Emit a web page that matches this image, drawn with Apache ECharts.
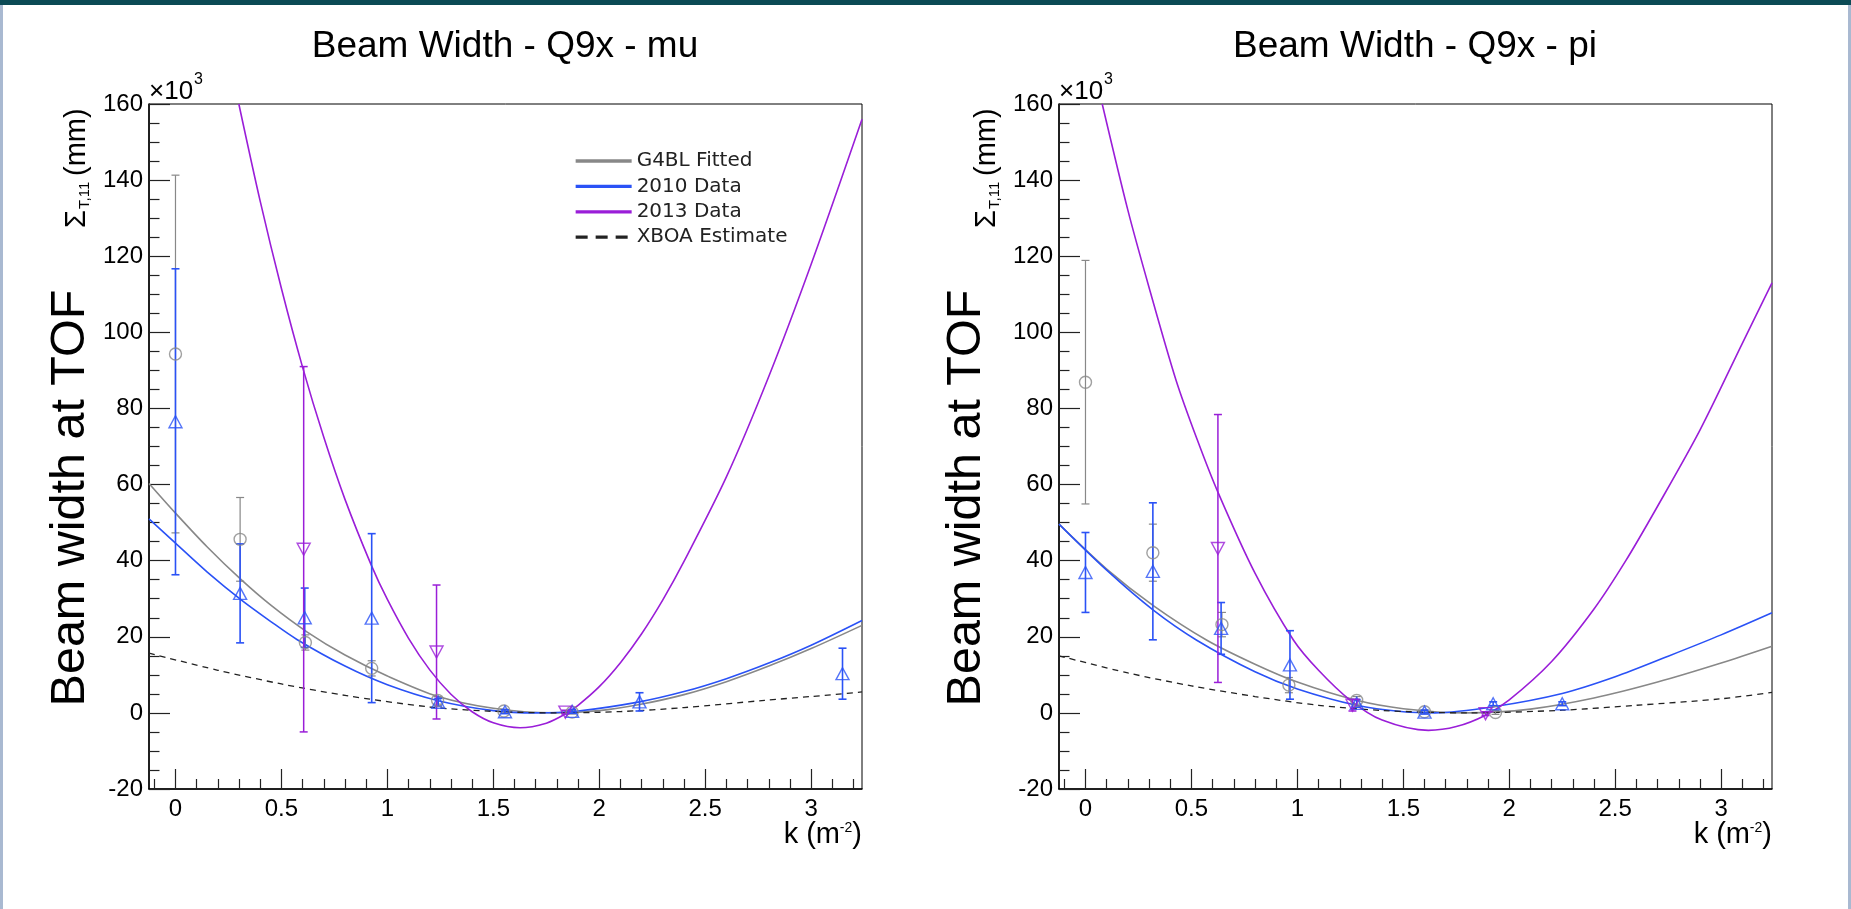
<!DOCTYPE html>
<html>
<head>
<meta charset="utf-8">
<script src="https://cdn.jsdelivr.net/npm/echarts@6/dist/echarts.min.js"></script>
<style>
html,body{margin:0;padding:0;background:#fff;}
#c{width:1851px;height:909px;}
</style>
</head>
<body>
<div id="c"></div>
<script>
// ---------------- data ----------------
const X_MIN = -0.125, X_MAX = 3.24;
const Y_MIN = -20, Y_MAX = 160, Y_STEP = 20;
const X_TICKS = [0, 0.5, 1, 1.5, 2, 2.5, 3];
const X_MINOR_TICKS = [-0.1,0.1,0.2,0.3,0.4,0.6,0.7,0.8,0.9,1.1,1.2,1.3,1.4,1.6,1.7,1.8,1.9,2.1,2.2,2.3,2.4,2.6,2.7,2.8,2.9,3.1,3.2];

const TITLES = ['Beam Width - Q9x - mu', 'Beam Width - Q9x - pi'];
const LEGEND_NAMES = ['G4BL Fitted', '2010 Data', '2013 Data', 'XBOA Estimate'];

// mu panel: points (k, value [x10^3 mm], error)
const muG4blK = [0, 0.305, 0.613, 0.926, 1.237, 1.55, 1.872];
const muG4blV = [94.3, 45.6, 18.5, 11.7, 3.3, 0.5, 0.2];
const muG4blE = [47, 11, 2, 2, 1, 0.5, 0.5];
const mu2010K = [0, 0.305, 0.61, 0.926, 1.24, 1.555, 1.872, 2.19, 3.148];
const mu2010V = [76.5, 31.4, 25.0, 24.9, 2.8, 0.3, 0.4, 2.9, 10.3];
const mu2010E = [40.2, 13, 7.8, 22.2, 1, 0.5, 0.5, 2.4, 6.7];
const mu2013K = [0.605, 1.232, 1.84];
const mu2013V = [43, 16, 0.2];
const mu2013E = [48, 17.6, 0.5];
// mu panel: fitted curves [k, value]
const muFitG4bl = [[-0.125,60.3],[0,52.5],[0.15,43.6],[0.31,35.0],[0.45,28.3],[0.62,21.3],[0.8,15.2],[1.0,9.7],[1.24,4.3],[1.5,1.2],[1.78,0.0],[2.0,0.6],[2.19,2.2],[2.4,4.8],[2.6,8.2],[2.8,12.3],[3.0,16.9],[3.24,23.0]];
const muFit2010 = [[-0.125,51.0],[0,44.6],[0.15,37.0],[0.31,29.7],[0.45,24.0],[0.573,19.3],[0.8,12.3],[1.0,7.4],[1.24,3.2],[1.5,0.6],[1.7,0.0],[1.9,0.5],[2.19,2.9],[2.4,5.6],[2.6,9.0],[2.8,13.1],[3.0,17.8],[3.24,24.3]];
const muFit2013 = [[0.299,160],[0.4,134.4],[0.5,111.5],[0.6,90.8],[0.7,72.4],[0.8,56.1],[0.925,38.7],[1.0,29.8],[1.1,19.6],[1.2,11.3],[1.3,4.9],[1.4,0.3],[1.5,-2.6],[1.626,-3.9],[1.75,-2.7],[1.84,-0.3],[1.9,2.0],[2.0,6.9],[2.1,13.2],[2.2,20.8],[2.3,29.7],[2.4,39.8],[2.6,62.0],[2.8,88.4],[3.0,117.9],[3.24,156]];
const muXboa = [[-0.125,15.7],[0.2,11.2],[0.5,7.6],[0.8,4.6],[1.2,1.55],[1.5,0.4],[1.8,0.0],[2.1,0.35],[2.4,1.4],[2.78,3.3],[3.0,4.3],[3.24,5.5]];

// pi panel
const piG4blK = [0, 0.318, 0.644, 0.96, 1.28, 1.6, 1.935];
const piG4blV = [86.9, 42.1, 23.2, 7.3, 3.3, 0.3, 0.1];
const piG4blE = [32, 7.5, 3.2, 2, 1, 0.5, 0.5];
const pi2010K = [0, 0.318, 0.64, 0.965, 1.28, 1.6, 1.924, 2.25];
const pi2010V = [36.9, 37.2, 22.2, 12.6, 2.5, 0.2, 2.4, 2.4];
const pi2010E = [10.5, 18, 6.8, 9, 1, 0.5, 0.5, 0.5];
const pi2013K = [0.625, 1.26, 1.888];
const pi2013V = [43.2, 2, -0.2];
const pi2013E = [35.2, 1.5, 0.5];
const piFitG4bl = [[-0.125,49.6],[0.1,37.8],[0.32,28.2],[0.573,19.1],[0.8,12.8],[1.0,8.1],[1.28,3.3],[1.5,1.1],[1.8,0.0],[2.1,1.0],[2.4,3.9],[2.7,8.1],[3.0,13.1],[3.24,17.5]];
const piFit2010 = [[-0.125,49.6],[0.1,37.5],[0.32,27.0],[0.525,19.1],[0.8,10.8],[1.0,6.3],[1.28,2.0],[1.5,0.3],[1.65,0.0],[1.924,1.6],[2.25,5.1],[2.5,9.5],[2.75,14.9],[3.0,20.5],[3.24,26.3]];
const piFit2013 = [[0.079,160],[0.2,132.1],[0.3,111.8],[0.427,87.5],[0.528,71.7],[0.628,57.6],[0.8,36.7],[0.982,19.1],[1.1,11.2],[1.25,3.3],[1.4,-1.9],[1.618,-4.6],[1.75,-3.6],[1.888,-0.6],[2.0,3.4],[2.2,13.5],[2.4,27.3],[2.55,40.0],[2.7,54.3],[2.9,74.3],[3.1,97.1],[3.24,113]];
const piXboa = [[-0.125,15.0],[0.2,10.5],[0.5,7.1],[0.8,4.3],[1.1,2.0],[1.4,0.64],[1.8,0.0],[2.25,0.7],[2.6,2.0],[3.0,3.7],[3.24,5.4]];

// ---------------- styles ----------------
const C_GRAY = '#888888', C_BLUE = '#2a52f6', C_PURPLE = '#9a1ed8', C_DASH = '#222222';
const FONT = 'Liberation Sans, Arial, Helvetica, sans-serif';
const GRIDS = [{left:149, top:104, width:713, height:685}, {left:1059, top:104, width:713, height:685}];

const chart = echarts.init(document.getElementById('c'), null, {renderer:'canvas'});

function zip(k, v, e){ return k.map((x,i)=> e ? [x, v[i], e[i]] : [x, v[i]]); }

function xAxes(gi){
  return [{
    type:'value', gridIndex:gi, min:X_MIN, max:X_MAX, position:'bottom',
    axisLine:{show:true, onZero:false, lineStyle:{color:'#000', width:1.5}},
    axisTick:{show:true, inside:true, length:20, customValues:X_TICKS, lineStyle:{color:'#222', width:1.2}},
    axisLabel:{show:true, customValues:X_TICKS, margin:8, color:'#000', fontSize:24, fontFamily:FONT},
    splitLine:{show:false}
  },{
    type:'value', gridIndex:gi, min:X_MIN, max:X_MAX, position:'bottom',
    axisLine:{show:false, onZero:false},
    axisTick:{show:true, inside:true, length:10, customValues:X_MINOR_TICKS, lineStyle:{color:'#222', width:1.2}},
    axisLabel:{show:false}, splitLine:{show:false}
  }];
}
function yAxis(gi){
  return {
    type:'value', gridIndex:gi, min:Y_MIN, max:Y_MAX, interval:Y_STEP,
    axisLine:{show:true, onZero:false, lineStyle:{color:'#000', width:1.5}},
    axisTick:{show:true, inside:true, length:21, lineStyle:{color:'#222', width:1.2}},
    minorTick:{show:true, splitNumber:4, length:10.5, lineStyle:{color:'#222', width:1.2}},
    axisLabel:{margin:6, color:'#000', fontSize:24, fontFamily:FONT},
    splitLine:{show:false}, minorSplitLine:{show:false}
  };
}

function curve(name, data, color, xi, yi, dashed){
  return {type:'line', name:name, xAxisIndex:xi, yAxisIndex:yi, data:data, smooth:0.3,
    symbol:'none', showSymbol:false, clip:true, silent:true, z:3,
    lineStyle:{color:color, width:dashed?1.3:1.6, type:dashed?[6,5]:'solid'}, itemStyle:{color:color}};
}
function errBars(id, data, color, xi, yi, w){
  return {type:'custom', name:id, xAxisIndex:xi, yAxisIndex:yi, data:data, clip:true, silent:true, z:4,
    renderItem:function(params, api){
      const k = api.value(0), v = api.value(1), e = api.value(2);
      const t = api.coord([k, v+e]), b = api.coord([k, v-e]);
      const cw = 4;
      const st = {stroke:color, lineWidth:w};
      return {type:'group', children:[
        {type:'line', shape:{x1:t[0], y1:t[1], x2:b[0], y2:b[1]}, style:st},
        {type:'line', shape:{x1:t[0]-cw, y1:t[1], x2:t[0]+cw, y2:t[1]}, style:st},
        {type:'line', shape:{x1:b[0]-cw, y1:b[1], x2:b[0]+cw, y2:b[1]}, style:st}
      ]};
    }};
}
function markers(id, data, color, xi, yi, symbol, size, rot){
  return {type:'scatter', name:id, xAxisIndex:xi, yAxisIndex:yi, data:data, symbol:symbol, symbolSize:size,
    symbolRotate:rot||0, silent:true, z:5,
    itemStyle:{color:'rgba(255,255,255,0)', borderColor:color, borderWidth:1.4}};
}

function panelSeries(p, xi, yi){
  return [
    curve(LEGEND_NAMES[0], p.fitG, C_GRAY, xi, yi, false),
    curve(LEGEND_NAMES[1], p.fitB, C_BLUE, xi, yi, false),
    curve(LEGEND_NAMES[2], p.fitP, C_PURPLE, xi, yi, false),
    curve(LEGEND_NAMES[3], p.xboa, C_DASH, xi, yi, true),
    errBars('g-err'+xi, zip(p.gK, p.gV, p.gE), C_GRAY, xi, yi, 1.2),
    errBars('b-err'+xi, zip(p.bK, p.bV, p.bE), C_BLUE, xi, yi, 1.6),
    errBars('p-err'+xi, zip(p.pK, p.pV, p.pE), C_PURPLE, xi, yi, 1.5),
    markers('g-pts'+xi, zip(p.gK, p.gV), C_GRAY, xi, yi, 'circle', 12, 0),
    markers('b-pts'+xi, zip(p.bK, p.bV), C_BLUE, xi, yi, 'triangle', [13,12], 0),
    markers('p-pts'+xi, zip(p.pK, p.pV), C_PURPLE, xi, yi, 'triangle', [13,12], 180)
  ];
}
const muP = {fitG:muFitG4bl, fitB:muFit2010, fitP:muFit2013, xboa:muXboa,
  gK:muG4blK, gV:muG4blV, gE:muG4blE, bK:mu2010K, bV:mu2010V, bE:mu2010E, pK:mu2013K, pV:mu2013V, pE:mu2013E};
const piP = {fitG:piFitG4bl, fitB:piFit2010, fitP:piFit2013, xboa:piXboa,
  gK:piG4blK, gV:piG4blV, gE:piG4blE, bK:pi2010K, bV:pi2010V, bE:pi2010E, pK:pi2013K, pV:pi2013V, pE:pi2013E};

// ---------------- text decorations ----------------
function panelTexts(dx, title, titleX, yTitleX){
  const t = (x, y, text, size, align, vAlign, rot) => ({type:'text', x:x, y:y, rotation:rot||0, silent:true, z:10,
    style:{text:text, fill:'#000', font:size+'px '+FONT, textAlign:align, textVerticalAlign:vAlign}});
  return [
    t(titleX, 46.8, title, 37, 'center', 'middle'),
    t(yTitleX, 498, 'Beam width at TOF', 48.5, 'center', 'middle', Math.PI/2),
    t(77+dx, 228, '\u03A3', 29, 'left', 'middle', Math.PI/2),
    t(85+dx, 209, 'T,11', 15, 'left', 'middle', Math.PI/2),
    t(77+dx, 176, '(mm)', 29, 'left', 'middle', Math.PI/2),
    t(149+dx, 92, '\u00D710', 26, 'left', 'middle'),
    t(194+dx, 80, '3', 16, 'left', 'middle'),
    t(862+dx, 835, ')', 29, 'right', 'middle'),
    t(852.3+dx, 828, '-2', 14, 'right', 'middle'),
    t(840+dx, 835, 'k (m', 29, 'right', 'middle')
  ];
}

const option = {
  animation:false,
  backgroundColor:'#ffffff',
  grid:GRIDS.map(g => Object.assign({show:true, borderColor:'#000', borderWidth:1, backgroundColor:'transparent', containLabel:false}, g)),
  xAxis:[...xAxes(0), ...xAxes(1)],
  yAxis:[yAxis(0), yAxis(1)],
  legend:{
    show:true, orient:'vertical', left:574, top:151, padding:0, itemWidth:56, itemHeight:14, itemGap:5.4,
    selectedMode:false,
    itemStyle:{color:'rgba(0,0,0,0)', borderWidth:0, opacity:0},
    textStyle:{fontFamily:'DejaVu Sans', fontSize:20, color:'#222', lineHeight:20},
    data:[
      {name:LEGEND_NAMES[0], lineStyle:{width:3.3, type:'solid'}},
      {name:LEGEND_NAMES[1], lineStyle:{width:3.3, type:'solid'}},
      {name:LEGEND_NAMES[2], lineStyle:{width:3.3, type:'solid'}},
      {name:LEGEND_NAMES[3], lineStyle:{width:3.3, type:[12,8]}}
    ]
  },
  graphic:[
    {type:'rect', shape:{x:0, y:0, width:1851, height:5}, style:{fill:'#0b4a55'}, silent:true},
    {type:'rect', shape:{x:0, y:5, width:3, height:904}, style:{fill:'#a9b9d1'}, silent:true},
    {type:'rect', shape:{x:1848, y:5, width:3, height:904}, style:{fill:'#a9b9d1'}, silent:true},
    ...panelTexts(0, TITLES[0], 505, 70.4),
    ...panelTexts(910, TITLES[1], 1415, 967)
  ],
  series:[...panelSeries(muP, 0, 0), ...panelSeries(piP, 2, 1)]
};
chart.setOption(option);
</script>
</body>
</html>
